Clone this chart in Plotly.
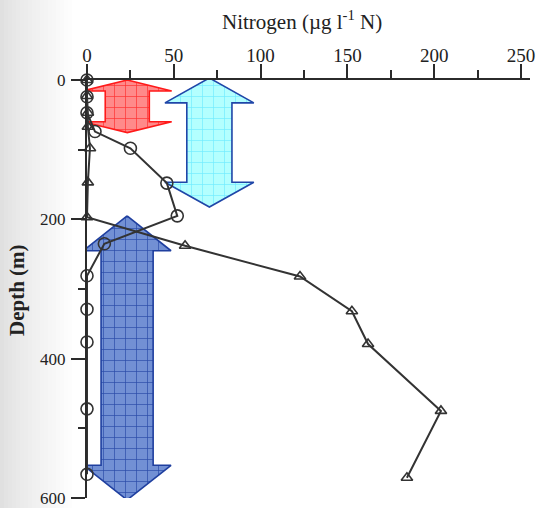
import plotly.graph_objects as go

# Nitrogen profiles (µg l-1 N) against depth (m)
circle_depth = [0, 24, 47, 74, 98, 148, 195, 235, 281, 329, 376, 472, 566]
circle_n = [0, 0, 0, 4.6, 25, 46, 52, 10, 0, 0, 0, 0, 0]

triangle_depth = [0, 23, 47, 67, 98, 147, 197, 238, 282, 332, 379, 475, 571]
triangle_n = [0, 0, 0.5, 0.5, 1.7, 0.5, 0, 56.5, 122.7, 152.6, 161.9, 203.9, 184.3]

x_ticks = [0, 50, 100, 150, 200, 250]
y_ticks = [0, 200, 400, 600]

# Depth zones marked with double-headed arrows:
# (centre N, head half-width, shaft half-width, tip top, head base top, head base bottom, tip bottom)
zone_surface = (23.2, 25.6, 12.7, 0, 15.7, 59.9, 75.5)
zone_upper = (70.5, 25.6, 13.0, -2.9, 32.8, 146.8, 182.4)
zone_deep = (23.1, 25.3, 15.0, 195.2, 245.1, 553.0, 602.8)

INK = "#2b2b2b"
SERIF = "Liberation Serif"


def double_arrow(xc, head, shaft, top, base_top, base_bot, bottom):
    xs = [xc, xc + head, xc + shaft, xc + shaft, xc + head, xc,
          xc - head, xc - shaft, xc - shaft, xc - head, xc]
    ys = [top, base_top, base_top, base_bot, base_bot, bottom,
          base_bot, base_bot, base_top, base_top, top]
    return xs, ys


fig = go.Figure()

arrow_styles = [
    (zone_surface, "#ff8a8a", "#ff3030", "#ff1a1a"),
    (zone_upper, "#b3ffff", "#70ecff", "#1f46a8"),
    (zone_deep, "#7290d4", "#2a4ba8", "#1f3f9f"),
]
for zone, bg, fg, edge in arrow_styles:
    xs, ys = double_arrow(*zone)
    fig.add_trace(go.Scatter(
        x=xs, y=ys, mode="lines", fill="toself",
        line=dict(color=edge, width=1.6),
        fillcolor=bg,
        fillpattern=dict(shape="+", size=11, solidity=0.12,
                         fgcolor=fg, bgcolor=bg, fillmode="replace"),
        hoverinfo="skip", showlegend=False,
    ))

fig.add_trace(go.Scatter(
    x=circle_n, y=circle_depth, mode="lines+markers",
    line=dict(color="#333333", width=2),
    marker=dict(symbol="circle-open", size=12, color="#333333",
                line=dict(width=1.6, color="#333333")),
    cliponaxis=False, showlegend=False,
))
fig.add_trace(go.Scatter(
    x=triangle_n, y=triangle_depth, mode="lines+markers",
    line=dict(color="#333333", width=2),
    marker=dict(symbol="triangle-up-open", size=10, color="#333333",
                line=dict(width=1.6, color="#333333")),
    cliponaxis=False, showlegend=False,
))

# soft grey shading along the left edge of the page
shapes = []
steps = 18
for i in range(steps):
    px0 = i * 4
    px1 = px0 + 4
    g = int(224 + (255 - 224) * (i / steps) ** 0.8)
    shapes.append(dict(
        type="rect", xref="paper", yref="paper", layer="below",
        x0=(px0 - 87) / 443, x1=(px1 - 87) / 443, y0=-0.03, y1=1.2,
        fillcolor=f"rgb({g},{g},{g})", line=dict(width=0),
    ))

fig.update_layout(
    width=537, height=508,
    margin=dict(l=87, r=7, t=80, b=10, autoexpand=False),
    paper_bgcolor="white", plot_bgcolor="rgba(0,0,0,0)",
    font=dict(family=SERIF, color="#222222"),
    shapes=shapes,
    xaxis=dict(
        range=[0, 255.2], side="top", tickmode="array", tickvals=x_ticks,
        showline=True, linecolor=INK, linewidth=2,
        ticks="outside", ticklen=14, tickwidth=2, tickcolor=INK,
        tickfont=dict(family=SERIF, size=19, color="#222222"),
        ticklabelstandoff=-6, ticklabeloverflow="allow", automargin=False,
        showgrid=False, zeroline=False,
        minor=dict(dtick=25, tick0=0, ticks="outside", ticklen=8,
                   tickwidth=1.5, tickcolor=INK, showgrid=False),
    ),
    yaxis=dict(
        range=[600, 0], tickmode="array", tickvals=y_ticks,
        showline=True, linecolor=INK, linewidth=2,
        ticks="outside", ticklen=14, tickwidth=2, tickcolor=INK,
        tickfont=dict(family=SERIF, size=17, color="#222222"),
        ticklabelstandoff=2, ticklabeloverflow="allow", automargin=False,
        showgrid=False, zeroline=False,
        minor=dict(dtick=100, tick0=0, ticks="outside", ticklen=7,
                   tickwidth=1.5, tickcolor=INK, showgrid=False),
    ),
    annotations=[
        dict(text="Nitrogen (µg l<sup>-1</sup> N)", xref="paper", yref="paper",
             x=(302 - 87) / 443, y=1 + (80 - 21) / 418,
             xanchor="center", yanchor="middle", showarrow=False,
             font=dict(family=SERIF, size=21, color="#222222")),
        dict(text="<b>Depth (m)</b>", xref="paper", yref="paper",
             x=(17 - 87) / 443, y=1 - (290 - 80) / 418, textangle=-90,
             xanchor="center", yanchor="middle", showarrow=False,
             font=dict(family=SERIF, size=21, color="#222222")),
    ],
)

fig.write_html("out.html")
